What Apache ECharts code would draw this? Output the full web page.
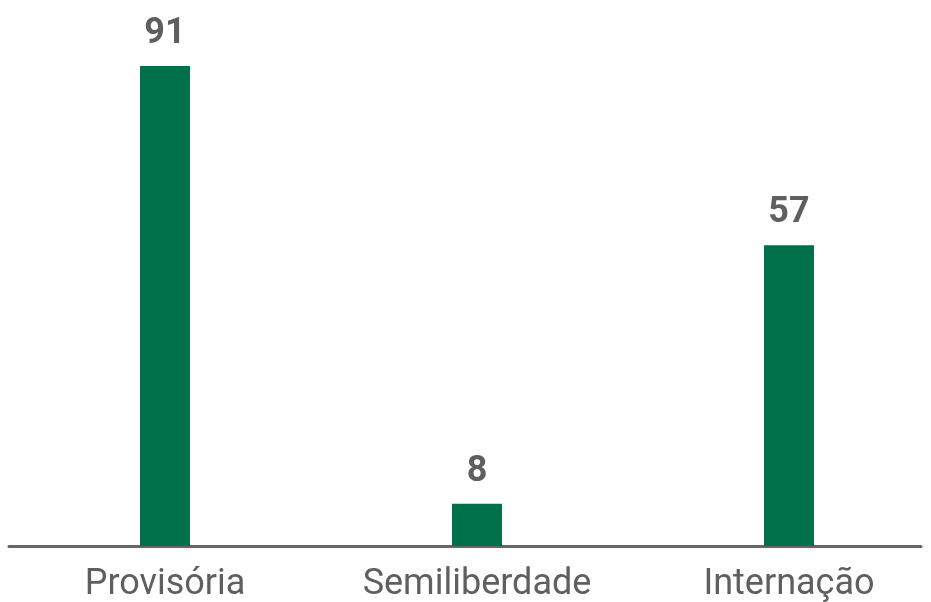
<!DOCTYPE html>
<html><head><meta charset="utf-8">
<script src="https://cdn.jsdelivr.net/npm/echarts@6/dist/echarts.min.js"></script>
<style>html,body{margin:0;padding:0;background:#fff}#c{width:931px;height:602px}</style>
</head><body><div id="c"></div>
<script>
const categories = ['Provisória', 'Semiliberdade', 'Internação'];
const values = [91, 8, 57];

const chart = echarts.init(document.getElementById('c'));
chart.setOption({
  animation: false,
  grid: [
    { left: 9, width: 936, top: 66, bottom: 56, outerBoundsMode: 'none', containLabel: false },
    { left: 9, right: 10, top: 66, bottom: 56 }
  ],
  xAxis: [
    { type: 'category', gridIndex: 0, data: categories,
      axisLine: { show: false }, axisTick: { show: false },
      axisLabel: { color: '#5f5f5f', fontSize: 36, fontFamily: 'Roboto', margin: 21 } },
    { type: 'value', gridIndex: 1, min: 0, max: 1,
      axisLine: { show: true, lineStyle: { color: '#666666', width: 3 } },
      axisTick: { show: false }, axisLabel: { show: false }, splitLine: { show: false } }
  ],
  yAxis: [
    { type: 'value', gridIndex: 0, min: 0, max: 91, show: false },
    { type: 'value', gridIndex: 1, min: 0, max: 1, show: false }
  ],
  series: [{
    type: 'bar', xAxisIndex: 0, yAxisIndex: 0, data: values, barWidth: 50,
    itemStyle: { color: '#00704a' },
    label: { show: true, position: 'top', distance: 14, color: '#5f5f5f',
      fontSize: 36, fontWeight: 'bold', fontFamily: 'Roboto' }
  }]
});
</script></body></html>
